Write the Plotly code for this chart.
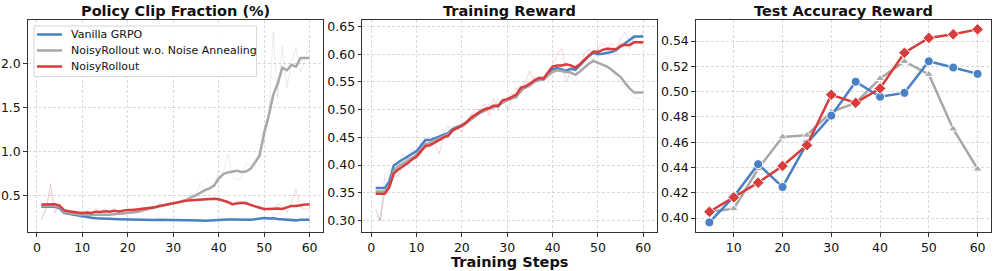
import plotly.graph_objects as go

steps = list(range(1, 61))
test_steps = [5, 10, 15, 20, 25, 30, 35, 40, 45, 50, 55, 60]

series_names = ["Vanilla GRPO", "NoisyRollout w.o. Noise Annealing", "NoisyRollout"]
colors = ["#4a80c4", "#a8a8a8", "#d83c3c"]

# Panel 1: Policy Clip Fraction (%)
clip_vanilla_smooth = [0.37, 0.37, 0.37, 0.37, 0.355, 0.30, 0.29, 0.28, 0.27, 0.26,
                       0.255, 0.245, 0.24, 0.24, 0.238, 0.235, 0.232, 0.23, 0.228, 0.226,
                       0.224, 0.222, 0.22, 0.218, 0.218, 0.22, 0.222, 0.222, 0.22, 0.22,
                       0.219, 0.218, 0.217, 0.215, 0.214, 0.214, 0.212, 0.216, 0.22, 0.224,
                       0.226, 0.226, 0.225, 0.224, 0.222, 0.222, 0.224, 0.228, 0.232, 0.243,
                       0.238, 0.24, 0.232, 0.228, 0.218, 0.222, 0.216, 0.222, 0.222, 0.222]
clip_vanilla_raw = [0.36, 0.38, 0.36, 0.38, 0.33, 0.28, 0.29, 0.27, 0.27, 0.25,
                    0.26, 0.24, 0.24, 0.25, 0.23, 0.24, 0.23, 0.23, 0.22, 0.23,
                    0.22, 0.22, 0.22, 0.21, 0.22, 0.23, 0.22, 0.22, 0.22, 0.22,
                    0.22, 0.21, 0.22, 0.21, 0.22, 0.21, 0.21, 0.23, 0.22, 0.23,
                    0.23, 0.22, 0.23, 0.22, 0.22, 0.23, 0.22, 0.23, 0.24, 0.25,
                    0.23, 0.25, 0.22, 0.23, 0.21, 0.23, 0.20, 0.23, 0.22, 0.22]
clip_noanneal_smooth = [0.38, 0.38, 0.38, 0.38, 0.37, 0.31, 0.30, 0.29, 0.285, 0.28,
                        0.28, 0.278, 0.276, 0.276, 0.278, 0.28, 0.285, 0.29, 0.29, 0.295,
                        0.30, 0.31, 0.325, 0.34, 0.35, 0.365, 0.375, 0.385, 0.40, 0.41,
                        0.42, 0.435, 0.45, 0.48, 0.50, 0.53, 0.56, 0.58, 0.61, 0.69,
                        0.74, 0.76, 0.77, 0.78, 0.765, 0.77, 0.80, 0.875, 0.95, 1.21,
                        1.40, 1.64, 1.77, 1.95, 1.92, 1.98, 1.96, 2.06, 2.06, 2.06]
clip_noanneal_raw = [0.22, 0.35, 0.55, 0.33, 0.38, 0.30, 0.30, 0.28, 0.29, 0.27,
                     0.28, 0.27, 0.28, 0.27, 0.28, 0.28, 0.29, 0.29, 0.29, 0.30,
                     0.30, 0.32, 0.33, 0.35, 0.35, 0.37, 0.38, 0.39, 0.41, 0.41,
                     0.42, 0.44, 0.45, 0.50, 0.52, 0.64, 0.53, 0.60, 0.62, 0.78,
                     0.75, 0.97, 0.72, 0.67, 0.70, 0.86, 0.84, 0.82, 1.02, 1.10,
                     1.38, 2.35, 1.60, 2.20, 1.72, 2.00, 2.18, 1.90, 2.05, 2.20]
clip_noisy_smooth = [0.395, 0.395, 0.395, 0.40, 0.385, 0.33, 0.32, 0.31, 0.305, 0.30,
                     0.305, 0.30, 0.315, 0.31, 0.32, 0.315, 0.325, 0.318, 0.33, 0.335,
                     0.335, 0.34, 0.345, 0.35, 0.36, 0.365, 0.38, 0.39, 0.40, 0.41,
                     0.42, 0.435, 0.44, 0.445, 0.45, 0.452, 0.455, 0.458, 0.462, 0.455,
                     0.44, 0.425, 0.40, 0.41, 0.415, 0.41, 0.39, 0.375, 0.36, 0.345,
                     0.345, 0.35, 0.35, 0.345, 0.36, 0.38, 0.38, 0.39, 0.395, 0.395]
clip_noisy_raw = [0.22, 0.35, 0.63, 0.30, 0.40, 0.32, 0.33, 0.29, 0.31, 0.28,
                  0.32, 0.29, 0.35, 0.30, 0.36, 0.30, 0.35, 0.31, 0.34, 0.33,
                  0.35, 0.33, 0.36, 0.35, 0.37, 0.36, 0.40, 0.38, 0.42, 0.40,
                  0.43, 0.44, 0.43, 0.45, 0.46, 0.44, 0.47, 0.45, 0.46, 0.44,
                  0.45, 0.40, 0.38, 0.44, 0.41, 0.44, 0.38, 0.37, 0.38, 0.33,
                  0.35, 0.33, 0.40, 0.38, 0.30, 0.42, 0.57, 0.37, 0.34, 0.35]

# Panel 2: Training Reward
rew_vanilla_smooth = [0.3585, 0.3585, 0.3585, 0.37, 0.399, 0.405, 0.41, 0.415, 0.42, 0.425,
                      0.435, 0.445, 0.445, 0.448, 0.452, 0.455, 0.458, 0.465, 0.468, 0.472,
                      0.477, 0.484, 0.49, 0.495, 0.50, 0.502, 0.506, 0.506, 0.515, 0.518,
                      0.521, 0.523, 0.537, 0.54, 0.545, 0.551, 0.555, 0.555, 0.564, 0.573,
                      0.575, 0.572, 0.57, 0.574, 0.572, 0.58, 0.589, 0.597, 0.603, 0.600,
                      0.601, 0.603, 0.604, 0.608, 0.614, 0.62, 0.625, 0.632, 0.632, 0.632]
rew_vanilla_raw = [0.32, 0.30, 0.38, 0.39, 0.40, 0.40, 0.42, 0.41, 0.43, 0.42,
                   0.44, 0.45, 0.44, 0.45, 0.45, 0.46, 0.47, 0.46, 0.47, 0.47,
                   0.48, 0.49, 0.49, 0.50, 0.50, 0.51, 0.50, 0.52, 0.51, 0.52,
                   0.53, 0.52, 0.54, 0.55, 0.54, 0.56, 0.55, 0.56, 0.57, 0.58,
                   0.57, 0.58, 0.55, 0.57, 0.58, 0.58, 0.59, 0.60, 0.59, 0.61,
                   0.60, 0.60, 0.61, 0.60, 0.63, 0.64, 0.62, 0.63, 0.63, 0.64]
rew_noanneal_smooth = [0.352, 0.352, 0.352, 0.36, 0.39, 0.398, 0.403, 0.408, 0.413, 0.418,
                       0.428, 0.437, 0.44, 0.444, 0.448, 0.452, 0.456, 0.462, 0.466, 0.47,
                       0.476, 0.482, 0.488, 0.494, 0.498, 0.502, 0.505, 0.507, 0.513, 0.517,
                       0.52, 0.524, 0.534, 0.54, 0.544, 0.55, 0.554, 0.554, 0.562, 0.568,
                       0.571, 0.569, 0.568, 0.567, 0.563, 0.569, 0.576, 0.583, 0.588, 0.585,
                       0.582, 0.578, 0.572, 0.566, 0.559, 0.548, 0.538, 0.531, 0.531, 0.531]
rew_noanneal_raw = [0.32, 0.30, 0.36, 0.38, 0.39, 0.40, 0.41, 0.41, 0.42, 0.42,
                    0.43, 0.44, 0.44, 0.44, 0.45, 0.45, 0.46, 0.46, 0.47, 0.47,
                    0.48, 0.48, 0.49, 0.50, 0.50, 0.50, 0.51, 0.51, 0.51, 0.52,
                    0.52, 0.53, 0.53, 0.54, 0.55, 0.55, 0.56, 0.56, 0.56, 0.57,
                    0.58, 0.57, 0.56, 0.56, 0.55, 0.57, 0.59, 0.59, 0.59, 0.58,
                    0.57, 0.58, 0.57, 0.56, 0.55, 0.54, 0.53, 0.52, 0.52, 0.515]
rew_noisy_smooth = [0.348, 0.348, 0.348, 0.36, 0.385, 0.392, 0.397, 0.403, 0.41, 0.415,
                    0.425, 0.434, 0.436, 0.44, 0.445, 0.45, 0.453, 0.463, 0.467, 0.471,
                    0.477, 0.485, 0.491, 0.496, 0.501, 0.503, 0.507, 0.507, 0.517, 0.519,
                    0.523, 0.527, 0.54, 0.542, 0.547, 0.553, 0.557, 0.556, 0.567, 0.578,
                    0.58, 0.58, 0.582, 0.58, 0.576, 0.582, 0.59, 0.598, 0.605, 0.604,
                    0.608, 0.61, 0.609, 0.609, 0.615, 0.617, 0.617, 0.622, 0.622, 0.622]
rew_noisy_raw = [0.31, 0.30, 0.35, 0.37, 0.38, 0.38, 0.40, 0.40, 0.41, 0.42,
                 0.42, 0.44, 0.43, 0.44, 0.42, 0.45, 0.45, 0.47, 0.47, 0.46,
                 0.48, 0.49, 0.50, 0.50, 0.51, 0.49, 0.52, 0.50, 0.52, 0.50,
                 0.52, 0.54, 0.53, 0.55, 0.57, 0.55, 0.56, 0.56, 0.57, 0.58,
                 0.60, 0.61, 0.57, 0.58, 0.57, 0.58, 0.60, 0.61, 0.60, 0.61,
                 0.62, 0.61, 0.62, 0.61, 0.62, 0.62, 0.61, 0.63, 0.62, 0.62]

# Panel 3: Test Accuracy Reward
acc_vanilla = [0.3966, 0.417, 0.4426, 0.4246, 0.459, 0.481, 0.5078, 0.4959, 0.499, 0.524, 0.519, 0.514]
acc_noanneal = [0.405, 0.4074, 0.439, 0.4642, 0.4655, 0.484, 0.491, 0.5104, 0.5239, 0.5136, 0.4705, 0.4388]
acc_noisy = [0.405, 0.4164, 0.428, 0.4412, 0.4576, 0.4975, 0.4911, 0.5025, 0.5307, 0.5424, 0.5453, 0.5492]

titles = ["Policy Clip Fraction (%)", "Training Reward", "Test Accuracy Reward"]

W, H = 997, 271
FONT = "DejaVu Sans"

def px(x):
    return x / W

def py(y):
    return 1 - y / H

fig = go.Figure()

clip_smooth = [clip_vanilla_smooth, clip_noanneal_smooth, clip_noisy_smooth]
clip_raw = [clip_vanilla_raw, clip_noanneal_raw, clip_noisy_raw]
rew_smooth = [rew_vanilla_smooth, rew_noanneal_smooth, rew_noisy_smooth]
rew_raw = [rew_vanilla_raw, rew_noanneal_raw, rew_noisy_raw]
accs = [acc_vanilla, acc_noanneal, acc_noisy]
symbols = ["circle", "triangle-up", "diamond"]
msizes = [9, 8, 9]

for i in range(3):
    fig.add_trace(go.Scatter(x=steps, y=clip_raw[i], mode="lines", xaxis="x", yaxis="y",
                             line=dict(color=colors[i], width=1), opacity=0.22,
                             showlegend=False, hoverinfo="skip"))
    fig.add_trace(go.Scatter(x=steps, y=clip_smooth[i], mode="lines", xaxis="x", yaxis="y",
                             line=dict(color=colors[i], width=2.5), name=series_names[i],
                             showlegend=False))
for i in range(3):
    fig.add_trace(go.Scatter(x=steps, y=rew_raw[i], mode="lines", xaxis="x2", yaxis="y2",
                             line=dict(color=colors[i], width=1), opacity=0.22,
                             showlegend=False, hoverinfo="skip"))
    fig.add_trace(go.Scatter(x=steps, y=rew_smooth[i], mode="lines", xaxis="x2", yaxis="y2",
                             line=dict(color=colors[i], width=2.5), name=series_names[i],
                             showlegend=False))
for i in [1, 0, 2]:
    fig.add_trace(go.Scatter(x=test_steps, y=accs[i], mode="lines+markers", xaxis="x3", yaxis="y3",
                             line=dict(color=colors[i], width=2.5),
                             marker=dict(symbol=symbols[i], size=msizes[i], color=colors[i],
                                         line=dict(color="white", width=1)),
                             name=series_names[i], showlegend=False))

top, bottom = 20, 232
doms = [(28, 323), (362.3, 656.7), (696, 991)]

axis_common = dict(showline=True, mirror=True, linecolor="#333333", linewidth=1.2,
                   ticks="outside", ticklen=3.5, tickcolor="#333333", tickwidth=1,
                   showgrid=True, gridcolor="#cfcfcf", griddash="3px,2px", gridwidth=0.8,
                   zeroline=False, automargin=False,
                   tickfont=dict(family=FONT, size=12.5, color="#111111"))

layout = dict(
    width=W, height=H, margin=dict(l=0, r=0, t=0, b=0, autoexpand=False),
    paper_bgcolor="white", plot_bgcolor="white",
    font=dict(family=FONT, color="#111111"),
    showlegend=False,
)

xranges = [[-1.95, 62.95], [-1.95, 62.95], [2.25, 62.75]]
yranges = [[0.084, 2.49], [0.279, 0.662], [0.389, 0.5566]]
xticks = [[0, 10, 20, 30, 40, 50, 60], [0, 10, 20, 30, 40, 50, 60], [10, 20, 30, 40, 50, 60]]
yticks = [[0.5, 1.0, 1.5, 2.0],
          [0.30, 0.35, 0.40, 0.45, 0.50, 0.55, 0.60, 0.65],
          [0.40, 0.42, 0.44, 0.46, 0.48, 0.50, 0.52, 0.54]]
yfmt = [".1f", ".2f", ".2f"]

for k in range(3):
    sfx = "" if k == 0 else str(k + 1)
    layout["xaxis" + sfx] = dict(axis_common, domain=[px(doms[k][0]), px(doms[k][1])],
                                 range=xranges[k], tickvals=xticks[k],
                                 anchor="y" + sfx)
    layout["yaxis" + sfx] = dict(axis_common, domain=[py(bottom), py(top)],
                                 range=yranges[k], tickvals=yticks[k], tickformat=yfmt[k],
                                 anchor="x" + sfx)

annotations = []
for k in range(3):
    cx = (doms[k][0] + doms[k][1]) / 2
    annotations.append(dict(text="<b>" + titles[k] + "</b>", x=px(cx), y=py(11),
                            xref="paper", yref="paper", xanchor="center", yanchor="middle",
                            showarrow=False, font=dict(family=FONT, size=14.5, color="#111111")))
annotations.append(dict(text="<b>Training Steps</b>", x=px((doms[1][0] + doms[1][1]) / 2), y=py(262),
                        xref="paper", yref="paper", xanchor="center", yanchor="middle",
                        borderpad=0,
                        showarrow=False, font=dict(family=FONT, size=14.5, color="#111111")))

# Legend (drawn in panel 1, upper left)
shapes = [dict(type="rect", xref="paper", yref="paper",
               x0=px(34), x1=px(256.5), y0=py(76.5), y1=py(26),
               line=dict(color="#d6d6d6", width=1), fillcolor="rgba(255,255,255,0.85)", layer="above")]
leg_y = [34.5, 50.5, 66.5]
for i in range(3):
    shapes.append(dict(type="line", xref="paper", yref="paper",
                       x0=px(37), x1=px(62), y0=py(leg_y[i]), y1=py(leg_y[i]),
                       line=dict(color=colors[i], width=2.5), layer="above"))
    annotations.append(dict(text=series_names[i], x=px(69), y=py(leg_y[i]),
                            xref="paper", yref="paper", xanchor="left", yanchor="middle",
                            showarrow=False, font=dict(family=FONT, size=11, color="#111111")))
layout["annotations"] = annotations
layout["shapes"] = shapes

fig.update_layout(**layout)
fig.write_html("out.html", config={"displayModeBar": False, "staticPlot": True},
               post_script="document.body.style.margin='0';document.body.style.overflow='hidden';")
